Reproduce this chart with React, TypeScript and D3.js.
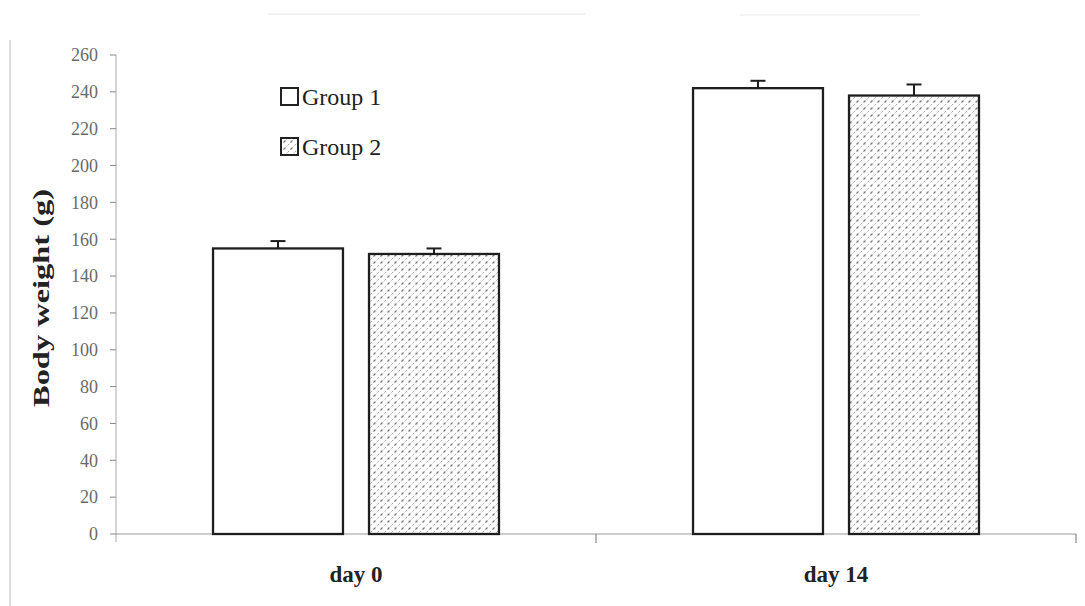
import React from "react";
import * as d3 from "d3";

// Body weight per group at each time point (mean and SE, grams)
const days = ["day 0", "day 14"];
const groups = ["Group 1", "Group 2"];
const group1Mean = [155, 242];
const group1Err = [4, 4];
const group2Mean = [152, 238];
const group2Err = [3, 6];
const yTicks = [0, 20, 40, 60, 80, 100, 120, 140, 160, 180, 200, 220, 240, 260];

const W = 1085;
const H = 606;
const FONT = "'Liberation Serif', 'Times New Roman', Times, serif";

export default function App() {
  const x0 = d3.scaleBand<string>().domain(days).range([116, 1076]);
  const x1 = d3
    .scaleBand<string>()
    .domain(groups)
    .range([0, x0.bandwidth()])
    .paddingInner(0.167)
    .paddingOuter(0.622);
  const y = d3.scaleLinear().domain([0, 260]).range([534, 55]);

  const rows = days.flatMap((day, i) => [
    { day, group: groups[0], mean: group1Mean[i], err: group1Err[i] },
    { day, group: groups[1], mean: group2Mean[i], err: group2Err[i] },
  ]);

  const fillFor = (g: string) => (g === groups[0] ? "#fff" : "url(#dotHatch)");

  const axisX0 = x0.range()[0];
  const axisX1 = x0.range()[1];
  const boundaries = days.map((d) => x0(d)! + x0.bandwidth());

  return (
    <div style={{ position: "absolute", left: 0, top: 0 }}>
      <svg width={W} height={H} style={{ display: "block", background: "#fff" }}>
        <defs>
          <pattern id="dotHatch" width="7" height="7" patternUnits="userSpaceOnUse">
            <rect width="7" height="7" fill="#fff" />
            <path d="M0,7 L7,0" stroke="#a6a6a6" strokeWidth="0.9" strokeDasharray="1.6,1.4" />
            <circle cx="3.5" cy="3.5" r="1" fill="#7a7a7a" />
          </pattern>
        </defs>

        {/* page frame remnants */}
        <line x1={10} x2={10} y1={40} y2={606} stroke="#c8c8c8" strokeWidth={1.2} />
        <line x1={268} x2={585} y1={14} y2={14} stroke="#ececec" strokeWidth={1.5} />
        <line x1={740} x2={920} y1={15} y2={15} stroke="#f0f0f0" strokeWidth={1.5} />

        {/* y axis */}
        <line x1={axisX0} x2={axisX0} y1={y(260)} y2={y(0) + 8} stroke="#aaa" strokeWidth={1} />
        {yTicks.map((t) => (
          <g key={t}>
            <line x1={axisX0 - 6} x2={axisX0} y1={y(t)} y2={y(t)} stroke="#888" strokeWidth={1} />
            <text
              x={98}
              y={y(t)}
              dy="0.35em"
              textAnchor="end"
              fontFamily={FONT}
              fontSize={18}
              fill="#6a6a6a"
            >
              {t}
            </text>
          </g>
        ))}

        {/* x axis */}
        <line x1={axisX0} x2={axisX1} y1={y(0)} y2={y(0)} stroke="#999" strokeWidth={1.2} />
        {boundaries.map((bx, i) => (
          <line key={i} x1={bx} x2={bx} y1={y(0)} y2={y(0) + 9} stroke="#888" strokeWidth={1.2} />
        ))}

        {/* bars with error bars */}
        {rows.map((r) => {
          const bx = x0(r.day)! + x1(r.group)!;
          const bw = x1.bandwidth();
          const top = y(r.mean);
          const cx = bx + bw / 2;
          return (
            <g key={r.day + r.group}>
              <rect
                x={bx}
                y={top}
                width={bw}
                height={y(0) - top}
                fill={fillFor(r.group)}
                stroke="#1e1e1e"
                strokeWidth={2.3}
              />
              <line x1={cx} x2={cx} y1={top} y2={y(r.mean + r.err)} stroke="#1e1e1e" strokeWidth={2} />
              <line
                x1={cx - 7.5}
                x2={cx + 7.5}
                y1={y(r.mean + r.err)}
                y2={y(r.mean + r.err)}
                stroke="#1e1e1e"
                strokeWidth={2}
              />
            </g>
          );
        })}

        {/* category labels */}
        {days.map((d) => (
          <text
            key={d}
            x={x0(d)! + x0.bandwidth() / 2}
            y={582}
            textAnchor="middle"
            fontFamily={FONT}
            fontWeight="bold"
            fontSize={23}
            fill="#222"
          >
            {d}
          </text>
        ))}

        {/* y axis title */}
        <text
          transform="translate(49,298) rotate(-90)"
          textAnchor="middle"
          fontFamily={FONT}
          fontWeight="bold"
          fontSize={23}
          textLength={218}
          lengthAdjust="spacingAndGlyphs"
          fill="#222"
        >
          Body weight (g)
        </text>

        {/* legend */}
        {groups.map((g, i) => (
          <g key={g} transform={`translate(281,${88 + i * 50})`}>
            <rect x={0} y={0} width={17} height={17} fill={fillFor(g)} stroke="#222" strokeWidth={2} />
            <text x={21} y={17} fontFamily={FONT} fontSize={24} fill="#222">
              {g}
            </text>
          </g>
        ))}
      </svg>
    </div>
  );
}
